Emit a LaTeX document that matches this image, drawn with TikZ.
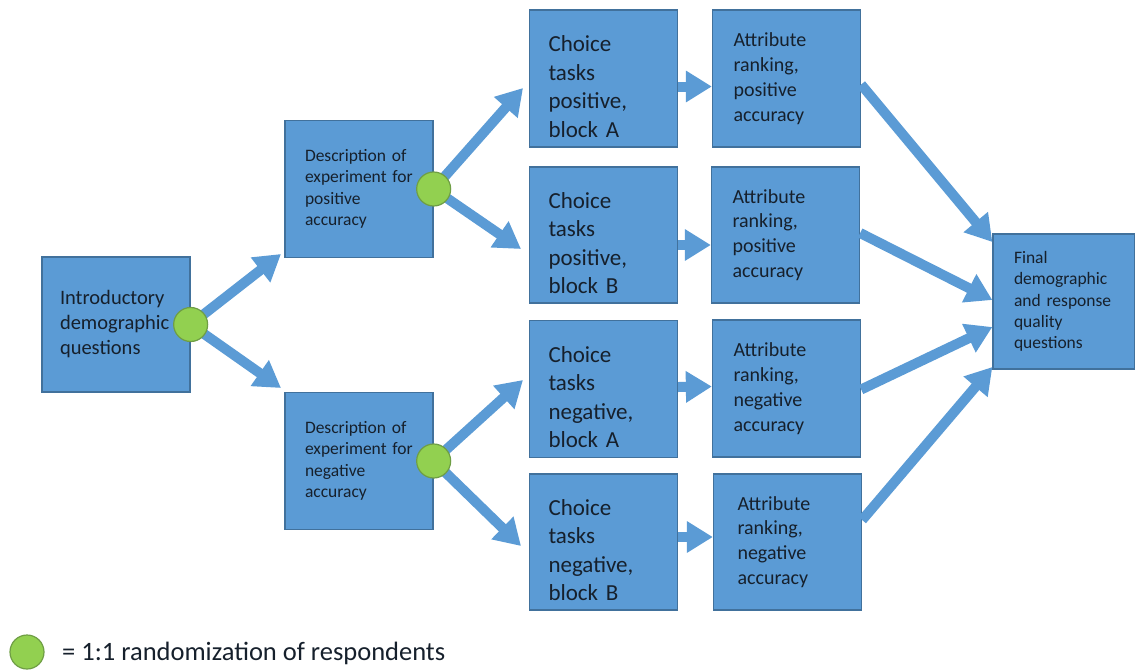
\documentclass[tikz,border=0pt]{standalone}
\usepackage{fontspec}
\setmainfont{Carlito}
\usetikzlibrary{arrows.meta}
\definecolor{boxfill}{HTML}{5B9BD5}
\definecolor{boxline}{HTML}{41719C}
\definecolor{rndfill}{HTML}{92D050}
\definecolor{rndline}{HTML}{6F9E45}
\definecolor{ink}{HTML}{16202C}

\begin{document}
\begin{tikzpicture}[x=1pt, y=-1pt,
    stage/.style={draw=boxline, fill=boxfill, line width=1.3pt, text=ink,
      align=left, inner ysep=0pt, anchor=center},
    wide/.style={inner xsep=#1pt, text width={148-2*#1}},
    introfont/.style={font=\fontsize{20.5}{25}\selectfont},
    descfont/.style={font=\fontsize{17.5}{21.3}\selectfont},
    choicefont/.style={font=\fontsize{23}{28.5}\selectfont,
      execute at begin node={\rule{0pt}{32pt}}},
    attrfont/.style={font=\fontsize{20}{24.8}\selectfont},
    rnd/.style={circle, draw=rndline, fill=rndfill, line width=1.2pt,
      minimum size=34pt, inner sep=0pt},
    flow/.style={draw=boxfill, line width=10pt,
      -{Triangle[length=26pt, width=30pt]}}]
  \useasboundingbox (0,0) rectangle (1135,670);

  % stages
  \node[stage, introfont, wide=18, minimum height=135pt] (intro) at (116,324.5)
    {Introductory\\demographic\\questions};
  \node[stage, descfont, wide=20, minimum height=137pt] (descpos) at (359,189)
    {Description of\\experiment for\\positive\\accuracy};
  \node[stage, descfont, wide=20, minimum height=137pt] (descneg) at (359,461)
    {Description of\\experiment for\\negative\\accuracy};
  \node[stage, choicefont, wide=19, minimum height=137pt] (chpa) at (603.5,78.5)
    {Choice\\tasks\\positive,\\block A};
  \node[stage, choicefont, wide=19, minimum height=136pt] (chpb) at (603.5,235)
    {Choice\\tasks\\positive,\\block B};
  \node[stage, choicefont, wide=19, minimum height=137pt] (chna) at (603.5,389)
    {Choice\\tasks\\negative,\\block A};
  \node[stage, choicefont, wide=19, minimum height=136pt] (chnb) at (603.5,542)
    {Choice\\tasks\\negative,\\block B};
  \node[stage, attrfont, wide=21, minimum height=137pt] (atpa) at (786.5,78.5)
    {Attribute\\ranking,\\positive\\accuracy};
  \node[stage, attrfont, wide=21, minimum height=136pt] (atpb) at (785.5,235)
    {Attribute\\ranking,\\positive\\accuracy};
  \node[stage, attrfont, wide=21, minimum height=137pt] (atna) at (786.5,388.5)
    {Attribute\\ranking,\\negative\\accuracy};
  \node[stage, attrfont, wide=24, minimum height=136pt] (atnb) at (787.5,542)
    {Attribute\\ranking,\\negative\\accuracy};
  \node[stage, descfont, inner xsep=21pt, text width=100pt, minimum height=135pt] (final) at (1064,301.5)
    {Final\\demographic\\and response\\quality\\questions};

  % arrow ends
  \coordinate (dpin) at (281,254);
  \coordinate (dnin) at (281,388);
  \coordinate (cpain) at (523,88);
  \coordinate (cpbin) at (521,249);
  \coordinate (cnain) at (523,380);
  \coordinate (cnbin) at (521,546);

  \draw[flow] (intro.east) -- (dpin);
  \draw[flow] (intro.east) -- (dnin);
  \draw[flow] (descpos.east) -- (cpain);
  \draw[flow] (descpos.east) -- (cpbin);
  \draw[flow] (descneg.east) -- (cnain);
  \draw[flow] (descneg.east) -- (cnbin);

  \draw[flow] ([yshift=-8pt]chpa.east) -- ([yshift=-8pt]atpa.west);
  \draw[flow] ([yshift=-10pt]chpb.east) -- ([yshift=-10pt]atpb.west);
  \draw[flow] ([yshift=2pt]chna.east) -- ([yshift=2pt]atna.west);
  \draw[flow] ([yshift=5pt]chnb.east) -- ([yshift=5pt]atnb.west);

  \draw[flow] ([yshift=-6pt]atpa.east) -- ([yshift=59.5pt]final.west);
  \draw[flow] ([yshift=2pt]atpb.east) -- ([yshift=1.5pt]final.west);
  \draw[flow] ([yshift=-1pt]atna.east) -- ([yshift=-25.5pt]final.west);
  \draw[flow] ([yshift=22pt]atnb.east) -- ([yshift=-65.5pt]final.west);

  % randomization points
  \node[rnd] (rnd1) at (intro.east) {};
  \node[rnd] (rnd2) at (descpos.east) {};
  \node[rnd] (rnd3) at (descneg.east) {};

  % legend
  \node[rnd] (key) at (27,652) {};
  \node[anchor=west, text=ink, inner sep=0pt, font=\fontsize{26.5}{32}\selectfont] (keytext) at (62,653)
    {= 1:1 randomization of respondents};
\end{tikzpicture}
\end{document}
